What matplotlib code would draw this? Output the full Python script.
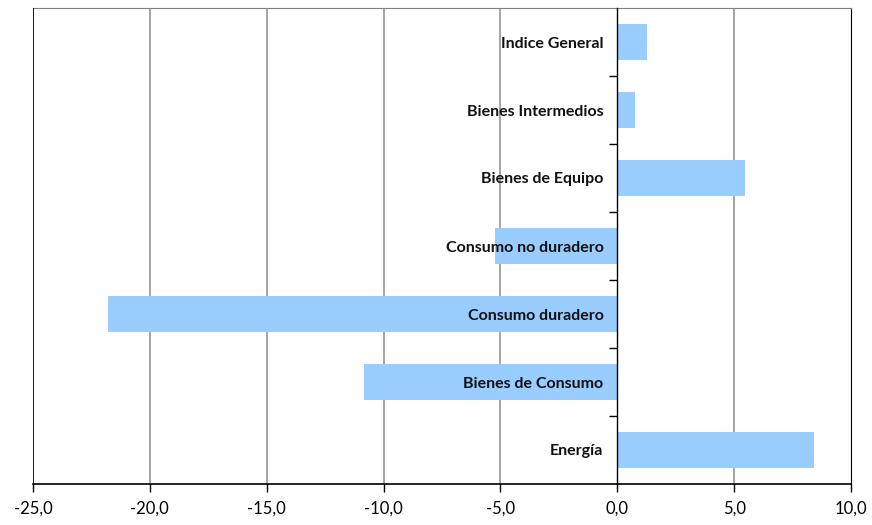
import matplotlib.pyplot as plt
import numpy as np

plt.rcParams['font.family'] = ['Lato', 'DejaVu Sans']

# categories from bottom to top
categories = ['Energía', 'Bienes de Consumo', 'Consumo duradero', 'Consumo no duradero',
              'Bienes de Equipo', 'Bienes Intermedios', 'Indice General']
values = [8.4, -10.85, -21.8, -5.25, 5.45, 0.75, 1.25]
xticks = [-25, -20, -15, -10, -5, 0, 5, 10]

fig = plt.figure(figsize=(8.72, 5.25), dpi=100)
ax = fig.add_axes([33/872, 1-484/525, (851-33)/872, (484-8)/525])

y = np.arange(len(categories))
ax.barh(y, values, height=0.52, color='#99CCFF', zorder=2)

ax.set_xlim(-25, 10)
ax.set_ylim(-0.5, len(categories) - 0.5)

# vertical gridlines
for xt in xticks[1:-1]:
    if xt != 0:
        ax.axvline(xt, color='#8c8c8c', lw=1.1, zorder=1)

# zero axis carries the category labels
ax.spines['left'].set_position(('data', 0))
ax.spines['left'].set_color('black')
ax.spines['left'].set_linewidth(1.0)
ax.spines['left'].set_zorder(3)
ax.axvline(-25, color='black', lw=1.3, zorder=3)
ax.spines['top'].set_color('#808080')
ax.spines['right'].set_color('black')
ax.spines['bottom'].set_color('black')
ax.spines['bottom'].set_linewidth(1.2)

ax.set_yticks(y)
ax.set_yticklabels(categories, fontsize=11.5, fontweight='bold', color='#111111')
ax.tick_params(axis='y', which='major', length=0, pad=10)
ax.set_yticks(np.arange(len(categories) - 1) + 0.5, minor=True)
ax.tick_params(axis='y', which='minor', length=6, width=1, direction='out')
ax.yaxis.set_zorder(5)

ax.set_xticks(xticks)
ax.set_xticklabels([('%.1f' % v).replace('.', ',') for v in xticks], fontsize=12)
ax.tick_params(axis='x', length=6, width=1, pad=6)

fig.savefig('out.png', dpi=100)
